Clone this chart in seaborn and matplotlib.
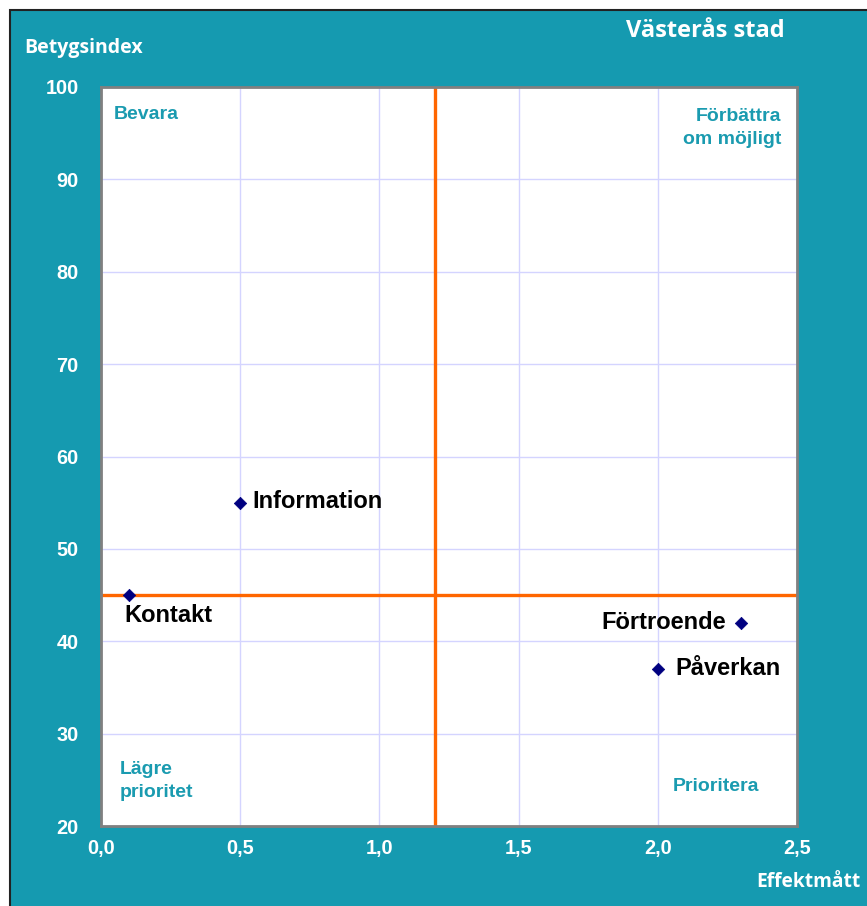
import matplotlib
matplotlib.use("Agg")
import matplotlib.pyplot as plt
import seaborn as sns
import pandas as pd
from matplotlib.patches import Rectangle

# data
areas = ["Information", "Kontakt", "Förtroende", "Påverkan"]
effekt = [0.5, 0.1, 2.3, 2.0]
betyg = [55, 45, 42, 37]

x_ticks = [0.0, 0.5, 1.0, 1.5, 2.0, 2.5]
x_labels = ["0,0", "0,5", "1,0", "1,5", "2,0", "2,5"]
y_ticks = [20, 30, 40, 50, 60, 70, 80, 90, 100]
y_labels = ["20", "30", "40", "50", "60", "70", "80", "90", "100"]

x_split = 1.2   # orange vertical line
y_split = 45    # orange horizontal line

teal = "#159AB0"
df = pd.DataFrame({"area": areas, "effekt": effekt, "betyg": betyg})

sns.set_style("white")
plt.rcParams["font.family"] = ["Liberation Sans", "DejaVu Sans"]

fig = plt.figure(figsize=(8.67, 9.06), dpi=100)
fig.patch.set_facecolor("white")
# teal background panel with a thin dark border top/left
bg = Rectangle((10 / 867, -0.05), 1.1, 1.05 - 10 / 906,
               transform=fig.transFigure, facecolor=teal,
               edgecolor="#222222", linewidth=1.5, zorder=-10)
fig.add_artist(bg)

ax = fig.add_axes([101 / 867, 1 - 826 / 906, 696 / 867, 739 / 906])
ax.set_facecolor("white")

ax.set_xlim(0, 2.5)
ax.set_ylim(20, 100)
ax.set_xticks(x_ticks)
ax.set_xticklabels(x_labels)
ax.set_yticks(y_ticks)
ax.set_yticklabels(y_labels)
ax.grid(True, color="#D4D4FF", linewidth=1)
ax.set_axisbelow(True)
ax.tick_params(axis="both", direction="in", length=5, color="#808080",
               labelcolor="white", labelsize=14.3)
ax.tick_params(axis="x", pad=9.5)
ax.tick_params(axis="y", pad=16)
for lab in ax.get_xticklabels() + ax.get_yticklabels():
    lab.set_fontweight("bold")
for sp in ax.spines.values():
    sp.set_color("#808080")
    sp.set_linewidth(2)

ax.axvline(x_split, color="#FF6600", linewidth=2.4, zorder=2)
ax.axhline(y_split, color="#FF6600", linewidth=2.4, zorder=2)

sns.scatterplot(data=df, x="effekt", y="betyg", marker="D", s=40,
                color="#000080", edgecolor="#000080", ax=ax, zorder=3,
                legend=False)
ax.set_xlabel("")
ax.set_ylabel("")

# point labels
offsets = {"Information": ((9, 1), "left", "center"),
           "Kontakt": ((-3, -14.5), "left", "center"),
           "Förtroende": ((-11, 0), "right", "center"),
           "Påverkan": ((13, 0), "left", "center")}
for name, xv, yv in zip(areas, effekt, betyg):
    off, ha, va = offsets[name]
    ax.annotate(name, (xv, yv), xytext=off, textcoords="offset points",
                ha=ha, va=va, fontsize=17, fontweight="bold", color="black")

# quadrant labels
qcol = "#1A9BB0"
ax.text(0.047, 97.0, "Bevara", ha="left", va="center", fontsize=14,
        fontweight="bold", color=qcol)
ax.text(2.443, 95.6, "Förbättra\nom möjligt", ha="right", va="center",
        multialignment="right", fontsize=14, fontweight="bold", color=qcol,
        linespacing=1.45)
ax.text(0.068, 24.9, "Lägre\nprioritet", ha="left", va="center", fontsize=14,
        fontweight="bold", color=qcol, linespacing=1.45)
ax.text(2.055, 24.3, "Prioritera", ha="left", va="center", fontsize=14,
        fontweight="bold", color=qcol)

# titles in the teal frame
fig.text(705 / 867, 1 - 31 / 906, "Västerås stad", ha="center", va="center",
         fontsize=17, fontweight="bold", color="white", family=["Open Sans", "DejaVu Sans"])
fig.text(24 / 867, 1 - 48 / 906, "Betygsindex", ha="left", va="center",
         fontsize=14, fontweight="bold", color="white", family=["Open Sans", "DejaVu Sans"])
fig.text(860 / 867, 1 - 882 / 906, "Effektmått", ha="right", va="center",
         fontsize=13.8, fontweight="bold", color="white", family=["Open Sans", "DejaVu Sans"])

fig.savefig("out.png", dpi=100, facecolor=fig.get_facecolor())
plt.close(fig)
